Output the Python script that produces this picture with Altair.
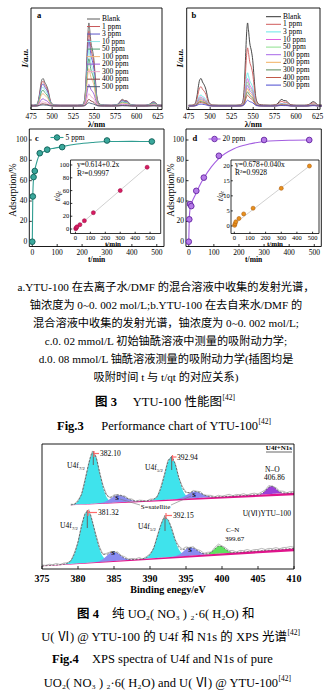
import altair as alt
import pandas as pd
import numpy as np

W, H = 332, 698
SERIF = "Liberation Serif"
MIX = "Liberation Serif, Noto Sans CJK SC"

# ---------------- Fig.3 a/b : emission spectra ----------------
wavelength = [475, 478, 481, 483, 485, 486.5, 488, 489.5, 491, 493, 495, 496.5, 498, 500, 503,
              510, 520, 530, 535, 537.5, 539.5, 541, 542.5, 543.5, 544.5, 546, 548, 549.5, 551,
              552.5, 554.5, 557, 562, 570, 576, 579, 581.5, 583.5, 585.5, 587.5, 589.5, 591.5,
              594, 600, 610, 614, 617, 619.5, 621.5, 623.5, 626, 630]
blank_profile = [1.0, 1.0, 1.5, 4, 14, 25, 32, 33, 29, 25.5, 20, 13, 6, 2.5, 1.2,
                 1.0, 1.0, 1.0, 1.3, 4, 20, 55, 90, 100, 92, 76, 66, 55, 35,
                 15, 5, 2, 1.2, 1.0, 1.5, 3.5, 7, 8, 6.5, 6.5, 5.5, 3,
                 1.5, 1.0, 1.0, 1.5, 3.5, 5.2, 4.8, 2.5, 1.2, 1.0]
conc_labels = ["Blank", "1 ppm", "3 ppm", "10 ppm", "50 ppm", "100 ppm", "200 ppm", "300 ppm", "400 ppm", "500 ppm"]
ratio_a = [1.0, 0.9, 0.8, 0.68, 0.57, 0.45, 0.26, 0.15, 0.08, 0.04]
ratio_b = [1.0, 0.70, 0.40, 0.33, 0.29, 0.25, 0.21, 0.17, 0.13, 0.07]
colors_a = ["#5a5a5a", "#c8575a", "#5a55c8", "#8fe6e6", "#4f9e6e", "#f2b57a", "#9a5ad6", "#f0a8c8", "#8a3f3f", "#4a5a78"]
colors_b = ["#333333", "#d05a5a", "#66e6e6", "#e060e0", "#8ee08e", "#a868e8", "#f2b060", "#5a8a5a", "#c25a48", "#4a4ad0"]
wl_ticks = [475, 500, 525, 550, 575, 600, 625]

# ---------------- Fig.3 c/d : adsorption kinetics ----------------
time_c = [0, 2, 5, 10, 30, 60, 120, 300, 480]
ads_c = [0, 44.5, 63.5, 69.5, 87, 90.5, 93, 99.5, 98.5]
fit_t_c = [0, 2, 5, 10, 20, 30, 45, 60, 90, 120, 180, 240, 300, 400, 480]
fit_q_c = [0, 44, 62, 70, 80, 86, 88.5, 90.5, 92, 93.5, 96, 97.5, 98.5, 98.6, 98.5]
ins_t_c = [2, 5, 10, 30, 60, 120, 300, 480]
ins_q_c = [0.5, 1.6, 3.4, 6.8, 13, 25.5, 60, 96.5]
reg_t_c = [0, 480]
reg_q_c = [0.6, 96.6]

time_d = [0, 2, 5, 10, 30, 60, 120, 300, 480]
ads_d = [0, 22, 37, 35, 50, 63, 84.5, 100, 100]
fit_t_d = [0, 2, 5, 10, 20, 30, 45, 60, 90, 120, 180, 240, 300, 400, 480]
fit_q_d = [0, 22, 32, 37, 43, 48, 56, 62.5, 73.5, 82, 91.5, 96, 98.5, 99.8, 100]
ins_t_d = [2, 5, 10, 30, 60, 120, 300, 480]
ins_q_d = [0.2, 0.7, 1.4, 2.5, 4.0, 5.9, 12.5, 19.9]
reg_t_d = [0, 480]
reg_q_d = [0.68, 19.9]
t_ticks = [0, 100, 200, 300, 400, 500]
ads_ticks = [0, 20, 40, 60, 80, 100]
tq_ticks_d = [0, 5, 10, 15, 20]

# ---------------- Fig.4 : XPS ----------------
energy = [375.0, 375.5, 376.0, 376.5, 377.0, 377.5, 378.0, 378.5, 379.0, 379.5,
          380.0, 380.5, 381.0, 381.5, 382.0, 382.5, 383.0, 383.5, 384.0, 384.5,
          385.0, 385.5, 386.0, 386.5, 387.0, 387.5, 388.0, 388.5, 389.0, 389.5,
          390.0, 390.5, 391.0, 391.5, 392.0, 392.5, 393.0, 393.5, 394.0, 394.5,
          395.0, 395.5, 396.0, 396.5, 397.0, 397.5, 398.0, 398.5, 399.0, 399.5,
          400.0, 400.5, 401.0, 401.5, 402.0, 402.5, 403.0, 403.5, 404.0, 404.5,
          405.0, 405.5, 406.0, 406.5, 407.0, 407.5, 408.0, 408.5, 409.0, 409.5,
          410.0]
env_upper = [None, None, None, None, None, None, None, None, 0.1, 0.6,
             2.7, 8.5, 19.4, 32.8, 40.8, 37.1, 25.1, 12.9, 6.1, 4.5,
             5.2, 6.0, 5.5, 4.0, 2.3, 1.0, 0.3, 0.1, 0.0, 0.0,
             0.2, 0.9, 3.3, 9.4, 19.7, 30.2, 34.0, 28.0, 17.5, 8.9,
             5.1, 4.7, 5.3, 5.1, 3.8, 2.3, 1.1, 0.4, 0.1, 0.0,
             0, 0, 0, 0, 0, 0, 0, 0, 0, 0,
             0.1, 0.7, 2.6, 5.4, 6.2, 3.9, 1.4, 0.3, 0, 0,
             0]
noise_upper = [0, 0, 0, 0, 0, 0, 0, 0, 0.6, -0.3,
               0.9, -0.5, 1.2, -0.8, 1.5, 0.7, -0.9, 1.1, 0.4, -0.6,
               1.0, 0.3, -0.7, 0.9, 0.2, 1.1, -0.3, 0.8, 0.5, -0.4,
               1.0, 0.3, -0.8, 1.2, 0.6, 1.6, -0.7, 0.9, -0.5, 1.0,
               0.2, -0.6, 0.9, 0.4, 1.2, -0.3, 0.7, 1.1, 0.2, 1.3,
               0.4, 1.0, 1.6, 0.3, 1.2, 0.8, 1.5, 0.2, 1.1, 1.4,
               0.5, 1.3, 0.9, 1.5, -0.2, 1.0, 0.6, 1.4, 0.3, 1.2,
               0.8]
env_lower = [0, 0, 0, 0, 0, 0, 0.2, 0.8, 2.8, 7.9,
             17.4, 29.7, 39.4, 41.2, 32.9, 20.9, 10.9, 6.1, 5.7, 7.1,
             7.5, 6.0, 3.6, 1.5, 0.5, 0.1, 0, 0, 0.2, 1.0,
             3.2, 8.2, 16.5, 25.9, 31.6, 30.1, 22.4, 13.3, 7.2, 5.1,
             5.8, 6.7, 6.0, 4.0, 2.0, 0.7, 0.6, 1.5, 3.9, 6.0,
             5.5, 3.1, 1.0, 0.2, 0, 0, 0, 0, 0, 0,
             0, 0, 0, 0, 0, 0, 0, 0, 0, 0,
             0]
noise_lower = [0.8, 0.3, 1.0, 0.5, 1.2, 0.2, 0.9, 0.4, -0.5, 0.9,
               -0.6, 1.1, 0.5, 1.4, -0.7, 0.8, 1.0, -0.4, 0.9, 0.3,
               -0.6, 1.0, 0.4, 1.2, 0.2, 0.9, 0.5, 1.3, -0.2, 0.7,
               0.4, -0.8, 1.1, 0.5, 1.3, -0.6, 0.9, 0.3, 1.2, 0.6,
               1.4, -0.3, 1.0, 0.6, 1.5, 0.4, 1.1, 0.2, 1.3, 1.6,
               0.5, 1.2, 0.8, 1.5, 0.3, 1.4, 1.0, 1.7, 0.6, 1.3,
               1.1, 1.8, 0.7, 1.4, 1.0, 1.6, 0.5, 1.3, 1.2, 1.7,
               0.9]
bg_upper_e = [379.0, 410.0]
bg_upper_v = [51.2, 61.0]
band_upper_low = [51.0, 59.0]
bg_lower_e = [375.0, 410.0]
bg_lower_v = [2.4, 16.5]
band_lower_low = [2.2, 14.3]
be_ticks = [375, 380, 385, 390, 395, 400, 405, 410]

up_f72_e = [379.1, 379.6, 380.1, 380.6, 381.1, 381.6, 382.1, 382.6, 383.1, 383.6, 384.1, 384.6, 385.1]
up_f72_h = [0.2, 0.9, 3.5, 10.2, 22.1, 35.1, 41, 35.1, 22.1, 10.2, 3.5, 0.9, 0.2]
up_s1_e = [382.6, 383.1, 383.6, 384.1, 384.6, 385.1, 385.6, 386.1, 386.6, 387.1, 387.6, 388.1, 388.6]
up_s1_h = [0.1, 0.3, 0.8, 2.0, 3.6, 5.3, 6, 5.3, 3.6, 2.0, 0.8, 0.3, 0.1]
up_f52_e = [389.94, 390.44, 390.94, 391.44, 391.94, 392.44, 392.94, 393.44, 393.94, 394.44, 394.94, 395.44, 395.94]
up_f52_h = [0.1, 0.7, 2.9, 8.5, 18.3, 29.1, 34, 29.1, 18.3, 8.5, 2.9, 0.7, 0.1]
up_s2_e = [393.2, 393.7, 394.2, 394.7, 395.2, 395.7, 396.2, 396.7, 397.2, 397.7, 398.2, 398.7, 399.2]
up_s2_h = [0.1, 0.2, 0.7, 1.7, 3.2, 4.7, 5.3, 4.7, 3.2, 1.7, 0.7, 0.2, 0.1]
up_no_e = [404.86, 405.36, 405.86, 406.36, 406.86, 407.36, 407.86, 408.36, 408.86]
up_no_h = [0.1, 0.4, 1.9, 4.7, 6.3, 4.7, 1.9, 0.4, 0.1]
lo_f72_e = [377.82, 378.32, 378.82, 379.32, 379.82, 380.32, 380.82, 381.32, 381.82, 382.32, 382.82, 383.32, 383.82, 384.32, 384.82]
lo_f72_h = [0.1, 0.5, 1.8, 5.6, 13.5, 25.2, 36.6, 41.5, 36.6, 25.2, 13.5, 5.6, 1.8, 0.5, 0.1]
lo_s1_e = [381.9, 382.4, 382.9, 383.4, 383.9, 384.4, 384.9, 385.4, 385.9, 386.4, 386.9, 387.4, 387.9]
lo_s1_h = [0, 0.2, 0.6, 1.9, 4.0, 6.4, 7.5, 6.4, 4.0, 1.9, 0.6, 0.2, 0]
lo_f52_e = [389.15, 389.65, 390.15, 390.65, 391.15, 391.65, 392.15, 392.65, 393.15, 393.65, 394.15, 394.65, 395.15]
lo_f52_h = [0.4, 1.4, 4.3, 10.4, 19.4, 28.2, 32, 28.2, 19.4, 10.4, 4.3, 1.4, 0.4]
lo_s2_e = [392.6, 393.1, 393.6, 394.1, 394.6, 395.1, 395.6, 396.1, 396.6, 397.1, 397.6, 398.1, 398.6]
lo_s2_h = [0, 0.1, 0.6, 1.6, 3.6, 5.7, 6.6, 5.7, 3.6, 1.6, 0.6, 0.1, 0]
lo_cn_e = [397.67, 398.17, 398.67, 399.17, 399.67, 400.17, 400.67, 401.17, 401.67]
lo_cn_h = [0.1, 0.6, 2.2, 4.8, 6.2, 4.8, 2.2, 0.6, 0.1]

CYAN, SAT, PURP, GREEN, MAG = "#3fe3ec", "#8a8cf0", "#9b3fd9", "#5fe05f", "#e0148c"
components = [
    ("u1", "upper", up_f72_e, up_f72_h, CYAN), ("u2", "upper", up_s1_e, up_s1_h, SAT),
    ("u3", "upper", up_f52_e, up_f52_h, CYAN), ("u4", "upper", up_s2_e, up_s2_h, SAT),
    ("u5", "upper", up_no_e, up_no_h, PURP),
    ("l1", "lower", lo_f72_e, lo_f72_h, CYAN), ("l2", "lower", lo_s1_e, lo_s1_h, SAT),
    ("l3", "lower", lo_f52_e, lo_f52_h, CYAN), ("l4", "lower", lo_s2_e, lo_s2_h, SAT),
    ("l5", "lower", lo_cn_e, lo_cn_h, GREEN),
]

# ---------------- layout geometry (pixels) ----------------
GA = (31, 162, 8, 109.5)
GB = (186.7, 320, 8, 109.5)
GC = (29.3, 164, 129, 246.5)
GCI = (70.5, 160.7, 160, 233.5)
GD = (186, 321.3, 129, 246.5)
GDI = (231, 319, 160, 233.5)
GX = (42, 294, 444, 569)

one = pd.DataFrame({"k": [0]})


def sc(domain, g):
    return alt.Scale(domain=domain, range=[g[0], g[1]], nice=False, zero=False)


def scy(domain, g):
    return alt.Scale(domain=domain, range=[g[3], g[2]], nice=False, zero=False)


def xticks(values, g, size, label_y, inward=2.5, weight="normal"):
    df = pd.DataFrame({"v": values})
    t = alt.Chart(df).mark_rule(color="black", strokeWidth=0.8).encode(
        x=alt.X("v:Q", axis=None), y=alt.value(g[3]), y2=alt.value(g[3] - inward))
    lab = alt.Chart(df).mark_text(font=SERIF, fontSize=size, fontWeight=weight, align="center",
                                  baseline="middle", color="black").encode(
        x=alt.X("v:Q", axis=None), y=alt.value(label_y), text=alt.Text("v:Q", format="d"))
    return [t, lab]


def yticks(values, g, size, label_x, inward=2.5):
    df = pd.DataFrame({"v": values})
    t = alt.Chart(df).mark_rule(color="black", strokeWidth=0.8).encode(
        y=alt.Y("v:Q", axis=None), x=alt.value(g[0]), x2=alt.value(g[0] + inward))
    lab = alt.Chart(df).mark_text(font=SERIF, fontSize=size, align="right",
                                  baseline="middle", color="black").encode(
        y=alt.Y("v:Q", axis=None), x=alt.value(label_x), text=alt.Text("v:Q", format="d"))
    return [t, lab]


def txt(s, x, y, size=8, font=SERIF, weight="normal", align="left", angle=None, style=None,
        color="black"):
    kw = dict(text=s, fontSize=size, font=font, fontWeight=weight, align=align,
              baseline="middle", color=color)
    if angle is not None:
        kw["angle"] = angle
    if style is not None:
        kw["fontStyle"] = style
    return alt.Chart(one).mark_text(**kw).encode(x=alt.value(x), y=alt.value(y))


def seg(x1, y1, x2, y2, color="black", w=0.8):
    return alt.Chart(one).mark_rule(color=color, strokeWidth=w).encode(
        x=alt.value(x1), y=alt.value(y1), x2=alt.value(x2), y2=alt.value(y2))


def box(g, fill=None, w=0.9):
    kw = dict(stroke="black", strokeWidth=w)
    if fill:
        kw["fill"] = fill
    else:
        kw["fillOpacity"] = 0
    return alt.Chart(one).mark_rect(**kw).encode(
        x=alt.value(g[0]), x2=alt.value(g[1]), y=alt.value(g[2]), y2=alt.value(g[3]))


# ---------------- spectra panels ----------------
def spectra_df(ratios):
    rows = []
    for lab, r in zip(conc_labels, ratios):
        for w_, v in zip(wavelength, blank_profile):
            rows.append({"wl": w_, "I": r * v, "conc": lab})
    return pd.DataFrame(rows)


def spectra_panel(ratios, g, xdom, colors):
    lines = alt.Chart(spectra_df(ratios)).mark_line(strokeWidth=0.9, interpolate="monotone").encode(
        x=alt.X("wl:Q", scale=sc(xdom, g), axis=None),
        y=alt.Y("I:Q", scale=scy([-4.2, 118], g), axis=None),
        color=alt.Color("conc:N", scale=alt.Scale(domain=conc_labels, range=colors), legend=None))
    return alt.layer(lines, *xticks(wl_ticks, g, 7.5, 117), box(g))


def legend(colors, y0, y1, xl0, xl1, xt):
    df = pd.DataFrame({"conc": conc_labels})
    ysc = alt.Scale(type="point", domain=conc_labels, range=[y0, y1], padding=0)
    r = alt.Chart(df).mark_rule(strokeWidth=1).encode(
        x=alt.value(xl0), x2=alt.value(xl1), y=alt.Y("conc:N", scale=ysc, axis=None),
        color=alt.Color("conc:N", scale=alt.Scale(domain=conc_labels, range=colors), legend=None))
    t = alt.Chart(df).mark_text(align="left", baseline="middle", font=SERIF, fontSize=7.5,
                                color="black").encode(
        x=alt.value(xt), y=alt.Y("conc:N", scale=ysc, axis=None), text="conc:N")
    return alt.layer(r, t)


panel_a = spectra_panel(ratio_a, GA, [475, 630], colors_a)
panel_b = spectra_panel(ratio_b, GB, [472.7, 627.7], colors_b)
leg_a = legend(colors_a, 19, 86.7, 87, 100, 102)
leg_b = legend(colors_b, 16.7, 85.1, 266, 281, 283)


# ---------------- kinetics panels ----------------
def kinetics_panel(g, xdom, ydom, t, q, ft, fq, line_c, fill_c, edge_c):
    fit = alt.Chart(pd.DataFrame({"t": ft, "q": fq})).mark_line(
        color=line_c, strokeWidth=1.1, interpolate="monotone").encode(
        x=alt.X("t:Q", scale=sc(xdom, g), axis=None),
        y=alt.Y("q:Q", scale=scy(ydom, g), axis=None))
    pts = alt.Chart(pd.DataFrame({"t": t, "q": q})).mark_circle(
        size=32, fill=fill_c, stroke=edge_c, strokeWidth=1, opacity=1).encode(
        x=alt.X("t:Q", axis=None), y=alt.Y("q:Q", axis=None))
    return alt.layer(fit, *xticks(t_ticks, g, 7.5, 252.5), *yticks(ads_ticks, g, 7.5, g[0] - 2),
                     box(g), pts)


def inset_panel(g, xdom, ydom, ytk, t, q, rt, rq, pc, pe):
    reg = alt.Chart(pd.DataFrame({"t": rt, "q": rq})).mark_line(color="#c4c4c4", strokeWidth=0.8).encode(
        x=alt.X("t:Q", scale=sc(xdom, g), axis=None),
        y=alt.Y("q:Q", scale=scy(ydom, g), axis=None))
    pts = alt.Chart(pd.DataFrame({"t": t, "q": q})).mark_circle(
        size=16, fill=pc, stroke=pe, strokeWidth=0.6, opacity=1).encode(
        x=alt.X("t:Q", axis=None), y=alt.Y("q:Q", axis=None))
    return alt.layer(box(g, fill="white", w=0.8), reg,
                     *xticks(t_ticks, g, 6.5, 238.3, inward=1.8),
                     *yticks(ytk, g, 6.5, g[0] - 1.3, inward=1.8), pts)


TEAL_L, TEAL_F, TEAL_E = "#2f9d91", "#3aa89c", "#16665e"
PUR_L, PUR_F, PUR_E = "#a35ee0", "#b67ae8", "#6c2fa8"
panel_c = kinetics_panel(GC, [-12, 529], [-4.7, 110.8], time_c, ads_c, fit_t_c, fit_q_c, TEAL_L, TEAL_F, TEAL_E)
panel_d = kinetics_panel(GD, [-11, 528], [-4.7, 110.8], time_d, ads_d, fit_t_d, fit_q_d, PUR_L, PUR_F, PUR_E)
inset_c = inset_panel(GCI, [-33, 571], [-7, 107.8], ads_ticks, ins_t_c, ins_q_c,
                      reg_t_c, reg_q_c, "#d81b60", "#a0104a")
inset_d = inset_panel(GDI, [-21, 541], [-2.5, 21.9], tq_ticks_d, ins_t_d, ins_q_d,
                      reg_t_d, reg_q_d, "#e8901c", "#b06010")

# ---------------- XPS panel ----------------
comp_rows = []
for name, spec, es, hs, col in components:
    be, bv = (bg_upper_e, bg_upper_v) if spec == "upper" else (bg_lower_e, bg_lower_v)
    for e, h in zip(es, hs):
        b = float(np.interp(e, be, bv))
        comp_rows.append({"e": e, "top": b + h, "bg": b, "comp": name})
df_comp = pd.DataFrame(comp_rows)

spec_rows = []
for spec, env, noise, be, bv in [("upper", env_upper, noise_upper, bg_upper_e, bg_upper_v),
                                 ("lower", env_lower, noise_lower, bg_lower_e, bg_lower_v)]:
    for e, h, n in zip(energy, env, noise):
        if h is None:
            continue
        b = float(np.interp(e, be, bv))
        spec_rows.append({"e": e, "env": b + h, "raw": b + h + n, "spec": spec})
df_spec = pd.DataFrame(spec_rows)

df_band = pd.DataFrame({
    "e": bg_upper_e + bg_lower_e,
    "top": bg_upper_v + bg_lower_v,
    "low": band_upper_low + band_lower_low,
    "spec": ["upper", "upper", "lower", "lower"]})

xps_x = alt.Scale(domain=[375, 410], range=[GX[0], GX[1]], nice=False, zero=False)
xps_y = alt.Scale(domain=[0, 100], range=[GX[3], GX[2]], nice=False, zero=False)
areas = alt.Chart(df_comp).mark_area(interpolate="monotone", opacity=1).encode(
    x=alt.X("e:Q", scale=xps_x, axis=None),
    y=alt.Y("top:Q", scale=xps_y, axis=None, stack=None),
    y2="bg:Q",
    color=alt.Color("comp:N", scale=alt.Scale(domain=[c[0] for c in components],
                                              range=[c[4] for c in components]), legend=None))
band = alt.Chart(df_band).mark_area(color=MAG, opacity=1).encode(
    x=alt.X("e:Q", axis=None), y=alt.Y("top:Q", axis=None, stack=None), y2="low:Q", detail="spec:N")
raw = alt.Chart(df_spec).mark_line(color="#9a9a9a", strokeWidth=0.7).encode(
    x=alt.X("e:Q", axis=None), y=alt.Y("raw:Q", axis=None), detail="spec:N")
env = alt.Chart(df_spec).mark_line(color="#4a4a4a", strokeWidth=0.7, strokeDash=[2, 1.5],
                                   interpolate="monotone").encode(
    x=alt.X("e:Q", axis=None), y=alt.Y("env:Q", axis=None), detail="spec:N")
xps = alt.layer(areas, band, raw, env, *xticks(be_ticks, GX, 10, 578.5, inward=3, weight="bold"), box(GX))

# ---------------- texts ----------------
texts = [
    txt("a", 37, 15, 8.5, weight="bold"), txt("b", 191.5, 15, 8.5, weight="bold"),
    txt("λ/nm", 96.5, 125, 8, weight="bold", align="center"),
    txt("λ/nm", 253.3, 125, 8, weight="bold", align="center"),
    txt("I/a.u.", 24.5, 58, 8.5, weight="bold", align="center", angle=270, style="italic"),
    txt("I/a.u.", 179.5, 58, 8.5, weight="bold", align="center", angle=270, style="italic"),
    txt("c", 35, 137.5, 8.5, weight="bold"), txt("d", 192.5, 138, 8.5, weight="bold"),
    txt("Adsorption/%", 13.3, 190, 9.5, align="center", angle=270),
    txt("Adsorption/%", 171, 190, 9.5, align="center", angle=270),
    txt("t/min", 96.6, 260, 7.5, weight="bold", align="center"),
    txt("t/min", 253.6, 260, 7.5, weight="bold", align="center"),
    txt("t/min", 113, 244, 7, weight="bold", align="center"),
    txt("t/min", 275, 244, 7, weight="bold", align="center"),
    txt("t/qₜ", 57.5, 196, 7.5, align="center", angle=270, style="italic"),
    txt("t/qₜ", 221, 196, 7.5, align="center", angle=270, style="italic"),
    txt("y=0.614+0.2x", 77, 165, 7.5), txt("R²=0.9997", 77, 173.5, 7.5),
    txt("y=0.678+0.040x", 235, 164.5, 7.5), txt("R²=0.9928", 235, 173, 7.5),
    seg(50.5, 137.5, 63.5, 137.5, TEAL_L, 1.1),
    txt("5 ppm", 65.5, 137.5, 7.5),
    seg(208.5, 139, 220.5, 139, PUR_L, 1.1),
    txt("20 ppm", 222.5, 139, 7.5),
]
legend_pts = [
    alt.Chart(one).mark_circle(size=30, fill=TEAL_F, stroke=TEAL_E, strokeWidth=1, opacity=1).encode(
        x=alt.value(57), y=alt.value(137.5)),
    alt.Chart(one).mark_circle(size=30, fill=PUR_F, stroke=PUR_E, strokeWidth=1, opacity=1).encode(
        x=alt.value(214.5), y=alt.value(139)),
]

caption3 = [
    "a.YTU-100 在去离子水/DMF 的混合溶液中收集的发射光谱，",
    "铀浓度为 0~0. 002 mol/L;b.YTU-100 在去自来水/DMF 的",
    "混合溶液中收集的发射光谱，铀浓度为 0~0. 002 mol/L;",
    "c.0. 02 mmol/L 初始铀酰溶液中测量的吸附动力学;",
    "d.0. 08 mmol/L 铀酰溶液测量的吸附动力学(插图均是",
    "吸附时间 t 与 t/qt 的对应关系)",
]
cap_y = [288, 306, 324, 342, 360, 378]
for line, yy in zip(caption3, cap_y):
    texts.append(txt(line, 166, yy, 11.2, font=MIX, align="center"))

texts += [
    txt("图 3", 95, 402, 12.5, font=MIX, weight="bold"),
    txt("YTU-100 性能图", 222, 402, 12.5, font=MIX, align="right"),
    txt("[42]", 222.5, 397.5, 7.5),
    txt("Fig.3", 57, 426, 12.5, weight="bold"),
    txt("Performance chart of YTU-100", 258, 426, 12.5, align="right"),
    txt("[42]", 258.5, 421.5, 7.5),
    txt("图 4", 77, 614, 12.5, font=MIX, weight="bold"),
    txt("纯 UO₂( NO₃ ) ₂·6( H₂O) 和", 112, 614, 12.5, font=MIX),
    txt("U( Ⅵ) @ YTU-100 的 U4f 和 N1s 的 XPS 光谱", 287, 637, 12.5, font=MIX, align="right"),
    txt("[42]", 287.5, 632.5, 7.5),
    txt("Fig.4", 52, 659, 12.5, weight="bold"),
    txt("XPS spectra of U4f and N1s of pure", 92, 659, 12.5),
    txt("UO₂( NO₃ ) ₂·6( H₂O)  and  U( Ⅵ) @ YTU-100", 278, 683, 12.5, font=MIX, align="right"),
    txt("[42]", 278.5, 678.5, 7.5),
]

RED = "#ff6a6a"
texts += [
    txt("U4f+N1s", 292, 447.5, 7, weight="bold", align="right"),
    seg(266, 452, 292, 452, "black", 0.6),
    seg(93.3, 451, 93.3, 465, "#666666", 1), seg(94, 453.5, 99, 453.5, RED, 1.2), seg(94, 451, 94, 457, RED, 1.2),
    txt("382.10", 100, 454, 7.5),
    txt("U4f", 67, 466, 7.5), txt("7/2", 79, 469, 4.5),
    seg(171.7, 456, 171.7, 470, "#666666", 1), seg(172.5, 457, 176.5, 457, RED, 1.2), seg(172.5, 455, 172.5, 461, RED, 1.2),
    txt("392.94", 177, 457.5, 7.5),
    txt("U4f", 145, 468, 7.5), txt("5/2", 157, 471, 4.5),
    txt("N–O", 265, 469.5, 7.5), txt("406.86", 264, 477.5, 7.5),
    txt("S", 117, 497.5, 6.5, weight="bold", align="center"),
    txt("S", 194, 494.5, 6.5, weight="bold", align="center"),
    seg(120, 499, 140, 505, "#777777", 0.6), seg(171, 505, 191, 496, "#777777", 0.6),
    txt("S=satellite", 155.5, 506.5, 7, align="center"),
    txt("U(Ⅵ)YTU–100", 291, 514, 7.5, font=MIX, align="right"),
    seg(87.3, 510, 87.3, 528, "#666666", 1), seg(88, 512.5, 97, 512.5, RED, 1.2), seg(88, 510, 88, 516, RED, 1.2),
    txt("381.32", 98, 512.5, 7.5),
    txt("U4f", 60, 526, 7.5), txt("7/2", 72, 529, 4.5),
    seg(165, 515, 165, 531, "#666666", 1), seg(166, 515.5, 172, 515.5, RED, 1.2), seg(166, 513, 166, 519, RED, 1.2),
    txt("392.15", 173, 516, 7.5),
    txt("U4f", 138, 527, 7.5), txt("5/2", 150, 530, 4.5),
    txt("C–N", 226, 530, 7), txt("399.67", 225, 538.5, 7),
    txt("S", 113, 553, 6.5, weight="bold", align="center"),
    txt("S", 190, 550, 6.5, weight="bold", align="center"),
    txt("Binding enegy/eV", 168, 590, 10, weight="bold", align="center"),
]

chart = alt.layer(
    panel_a, panel_b, leg_a, leg_b,
    panel_c, inset_c, panel_d, inset_d,
    xps, *legend_pts, *texts
).resolve_scale(
    x="independent", y="independent", color="independent"
).properties(
    width=W, height=H, padding=0, autosize=alt.AutoSizeParams(type="none")
).configure(background="white").configure_view(strokeWidth=0)

chart.save("out.html", embed_options={"renderer": "svg", "actions": False})
